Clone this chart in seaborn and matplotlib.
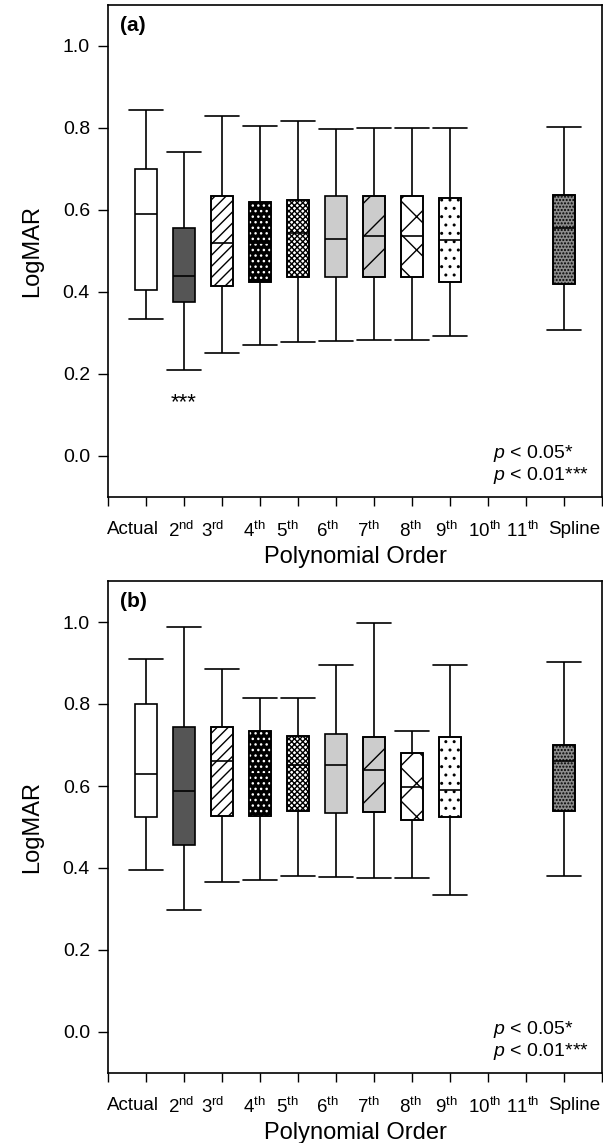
import numpy as np
import pandas as pd
import matplotlib
matplotlib.use("Agg")
import matplotlib.pyplot as plt
from matplotlib.patches import PathPatch
import seaborn as sns

# ---------------- data ----------------
categories = ["Actual", "2nd", "3rd", "4th", "5th", "6th", "7th", "8th", "9th",
              "10th", "11th", "Spline"]
tick_labels = ["Actual", r"2$^{\mathrm{nd}}$", r"3$^{\mathrm{rd}}$", r"4$^{\mathrm{th}}$",
               r"5$^{\mathrm{th}}$", r"6$^{\mathrm{th}}$", r"7$^{\mathrm{th}}$",
               r"8$^{\mathrm{th}}$", r"9$^{\mathrm{th}}$", r"10$^{\mathrm{th}}$",
               r"11$^{\mathrm{th}}$", "Spline"]
plotted = ["Actual", "2nd", "3rd", "4th", "5th", "6th", "7th", "8th", "9th", "Spline"]

# panel (a)
a_low = [0.335, 0.210, 0.252, 0.270, 0.278, 0.280, 0.282, 0.282, 0.293, 0.307]
a_q1 = [0.405, 0.375, 0.415, 0.425, 0.437, 0.437, 0.437, 0.437, 0.425, 0.420]
a_med = [0.590, 0.440, 0.520, 0.520, 0.543, 0.530, 0.537, 0.537, 0.527, 0.555]
a_q3 = [0.700, 0.555, 0.635, 0.620, 0.625, 0.635, 0.635, 0.635, 0.630, 0.637]
a_high = [0.845, 0.742, 0.830, 0.806, 0.818, 0.797, 0.800, 0.800, 0.800, 0.802]

# panel (b)
b_low = [0.395, 0.298, 0.365, 0.370, 0.380, 0.378, 0.375, 0.375, 0.333, 0.380]
b_q1 = [0.525, 0.455, 0.528, 0.527, 0.540, 0.535, 0.537, 0.517, 0.525, 0.540]
b_med = [0.630, 0.587, 0.662, 0.630, 0.652, 0.652, 0.640, 0.597, 0.590, 0.660]
b_q3 = [0.800, 0.743, 0.745, 0.735, 0.722, 0.727, 0.720, 0.680, 0.720, 0.700]
b_high = [0.910, 0.987, 0.885, 0.815, 0.815, 0.895, 0.997, 0.735, 0.895, 0.903]

# fills / hatches per plotted box
face_colors = ["white", "#555555", "white", "black", "white", "#cccccc",
               "#cccccc", "white", "white", "#8c8c8c"]
hatches = [None, None, "///", "...", "xxxxxx", None, "/", "x", "..", "....."]
hatch_colors = ["black", "black", "black", "white", "black", "black",
                "black", "black", "black", "black"]

# horizontal nudges (fraction of a category step) of the tick labels
label_nudge = [-0.34, -0.08, -0.24, -0.16, -0.29, -0.24, -0.16, -0.05, -0.10,
               -0.08, -0.10, 0.26]

# ---------------- style ----------------
sns.set_theme(style="ticks")
plt.rcParams["font.family"] = ["Liberation Sans", "DejaVu Sans"]
plt.rcParams["mathtext.fontset"] = "custom"
plt.rcParams["mathtext.rm"] = "Liberation Sans"
plt.rcParams["mathtext.it"] = "Liberation Sans:italic"
plt.rcParams["mathtext.bf"] = "Liberation Sans:bold"
plt.rcParams["hatch.linewidth"] = 1.0
for k in ["text.color", "axes.labelcolor", "xtick.color", "ytick.color", "axes.edgecolor"]:
    plt.rcParams[k] = "black"

W, H = 603, 1143
fig = plt.figure(figsize=(W / 100, H / 100), dpi=100)


def frame(l, t, r, b):
    return [l / W, 1 - b / H, (r - l) / W, (b - t) / H]


def panel(ax, low, q1, med, q3, high, letter, stars):
    rows = []
    for c, v in zip(plotted, zip(low, q1, med, q3, high)):
        for x in v:
            rows.append((c, x))
    df = pd.DataFrame(rows, columns=["order", "logmar"])
    sns.boxplot(data=df, x="order", y="logmar", order=categories, width=0.6,
                whis=(0, 100), showfliers=False, color="white", linecolor="black",
                linewidth=1.2, saturation=1, capwidths=0.9, ax=ax)
    boxes = sorted(ax.patches,
                   key=lambda p: p.get_transform().transform(p.get_path().vertices)[:, 0].mean())
    for p, fc, h, hc in zip(boxes, face_colors, hatches, hatch_colors):
        p.set_facecolor(fc)
        p.set_edgecolor("black")
        if h is not None:
            ov = PathPatch(p.get_path(), transform=p.get_transform(),
                           facecolor="none", edgecolor=hc, hatch=h, lw=0,
                           zorder=p.get_zorder() + 0.01)
            ax.add_patch(ov)
            outline = PathPatch(p.get_path(), transform=p.get_transform(),
                                facecolor="none", edgecolor="black", lw=1.2,
                                zorder=p.get_zorder() + 0.02)
            ax.add_patch(outline)
    for ln in ax.lines:
        ln.set_zorder(5)

    ax.set_xlim(-1, 12)
    ax.set_ylim(-0.1, 1.1)
    # tick marks at the category positions (major), labels on minor ticks
    ax.set_xticks(range(-1, 13))
    ax.set_xticklabels([""] * 14)
    ax.set_xticks([i + d for i, d in enumerate(label_nudge)], minor=True)
    ax.set_xticklabels(tick_labels, minor=True, fontsize=13.5)
    ax.tick_params(axis="x", which="major", length=6.5, width=1)
    ax.tick_params(axis="x", which="minor", length=0, pad=17)
    ax.set_yticks([0.0, 0.2, 0.4, 0.6, 0.8, 1.0])
    ax.set_yticklabels(["0.0", "0.2", "0.4", "0.6", "0.8", "1.0"], fontsize=14)
    ax.tick_params(axis="y", length=7, width=1, pad=6)
    ax.set_ylabel("LogMAR", fontsize=17, labelpad=14)
    ax.set_xlabel("Polynomial Order", fontsize=17, labelpad=4)
    for s in ax.spines.values():
        s.set_visible(True)
        s.set_linewidth(1.2)
        s.set_color("black")
    ax.text(0.024, 0.978, letter, transform=ax.transAxes, fontsize=15,
            fontweight="bold", ha="left", va="top")
    if stars:
        ax.text(1, 0.13, "***", ha="center", va="center", fontsize=16)
    ax.text(0.779, 0.089, r"$p$ < 0.05*", transform=ax.transAxes, fontsize=14,
            ha="left", va="center")
    ax.text(0.779, 0.044, r"$p$ < 0.01***", transform=ax.transAxes, fontsize=14,
            ha="left", va="center")


ax_a = fig.add_axes(frame(108, 5, 602, 497))
panel(ax_a, a_low, a_q1, a_med, a_q3, a_high, "(a)", True)
ax_b = fig.add_axes(frame(108, 581, 602, 1073))
panel(ax_b, b_low, b_q1, b_med, b_q3, b_high, "(b)", False)

fig.savefig("out.png", dpi=100)
